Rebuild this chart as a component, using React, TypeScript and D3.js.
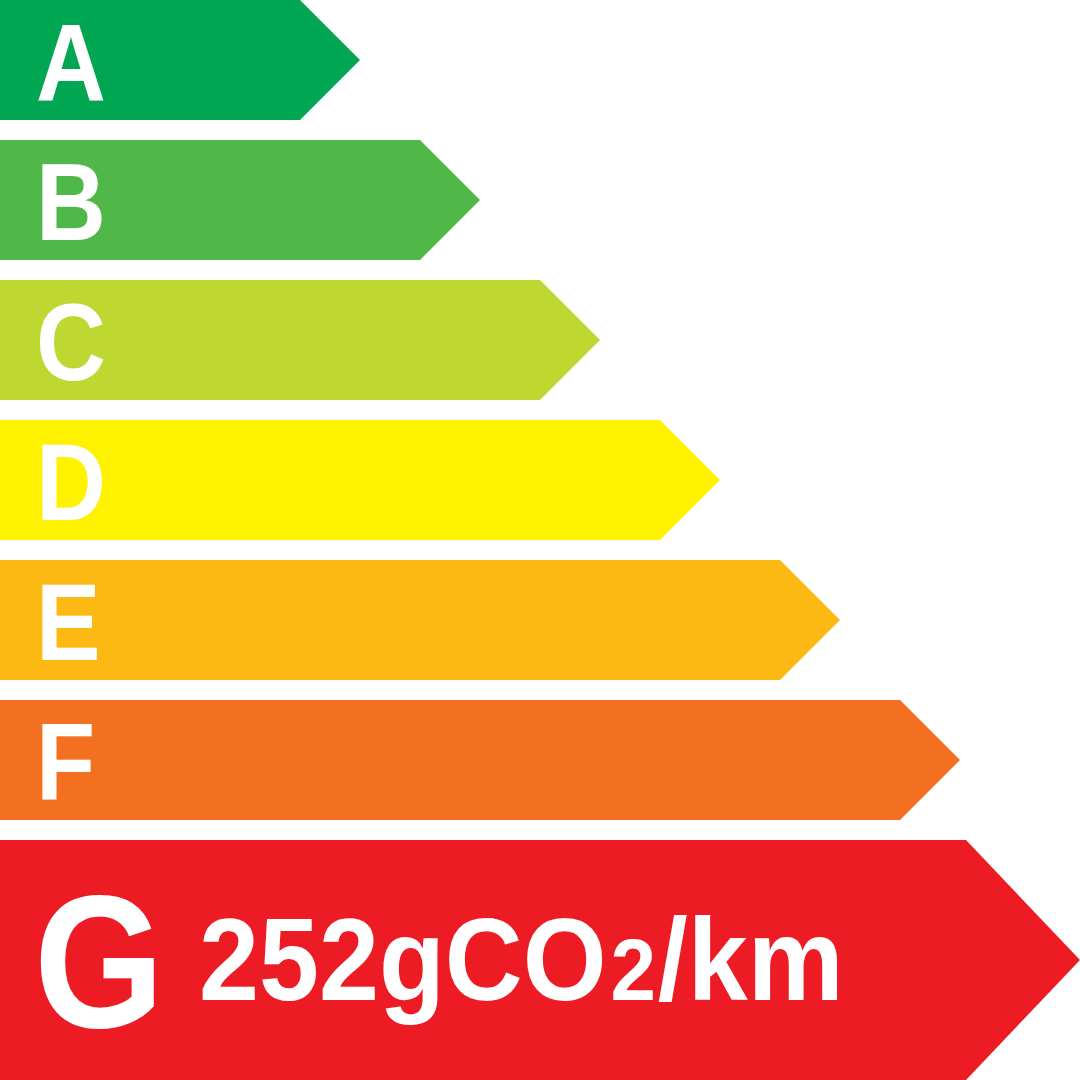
import React from "react";
import * as d3 from "d3";

const classes = ["A", "B", "C", "D", "E", "F", "G"];
const colors = ["#00A651", "#50B848", "#BED731", "#FFF200", "#FDB913", "#F37021", "#ED1C24"];
// bar body length (in row units) and arrow tip length
const bodyLengths = [2.5, 3.5, 4.5, 5.5, 6.5, 7.5, 8.05];
const tipLengths = [0.5, 0.5, 0.5, 0.5, 0.5, 0.5, 0.95];
const rowSpans = [1, 1, 1, 1, 1, 1, 2];
const gapUnits = 1 / 6;
const activeClass = "G";
const valueMain = "252gCO";
const valueSub = "2";
const valueUnit = "/km";

const W = 1080;
const H = 1080;

export default function App() {
  const totalUnits = d3.sum(rowSpans) + gapUnits * (rowSpans.length - 1);
  const y = d3.scaleLinear().domain([0, totalUnits]).range([0, H]);
  const x = d3.scaleLinear().domain([0, 9]).range([0, W]);

  let acc = 0;
  const rows = classes.map((c, i) => {
    const y0 = acc;
    const y1 = acc + rowSpans[i];
    acc = y1 + gapUnits;
    return { c, i, y0, y1 };
  });

  return (
    <svg
      width={W}
      height={H}
      viewBox={`0 0 ${W} ${H}`}
      style={{ position: "fixed", left: 0, top: 0, background: "#fff" }}
    >
      {rows.map(({ c, i, y0, y1 }) => {
        const top = y(y0);
        const bot = y(y1);
        const mid = (top + bot) / 2;
        const xb = x(bodyLengths[i]);
        const xt = x(bodyLengths[i] + tipLengths[i]);
        const path = d3.path();
        path.moveTo(0, top);
        path.lineTo(xb, top);
        path.lineTo(xt, mid);
        path.lineTo(xb, bot);
        path.lineTo(0, bot);
        path.closePath();
        const big = c === activeClass;
        const fs = big ? 190 : 110;
        const baseline = big ? mid + 67 : mid + 40;
        return (
          <g key={c}>
            <path d={path.toString()} fill={colors[i]} />
            <g transform={`translate(${big ? 34 : 36},${baseline}) scale(0.88,1)`}>
              <text
                x={0}
                y={0}
                fill="#fff"
                fontFamily="'Liberation Sans', Arial, sans-serif"
                fontWeight="bold"
                fontSize={fs}
              >
                {c}
              </text>
            </g>
            {big && (
              <g transform="translate(199,1000) scale(0.93,1)">
                <text
                  x={0}
                  y={0}
                  fill="#fff"
                  fontFamily="'Liberation Sans', Arial, sans-serif"
                  fontWeight="bold"
                  fontSize={116}
                >
                  {valueMain}
                  <tspan fontSize={88} dx={4}>{valueSub}</tspan>
                  <tspan dx={2}>{valueUnit}</tspan>
                </text>
              </g>
            )}
          </g>
        );
      })}
    </svg>
  );
}
